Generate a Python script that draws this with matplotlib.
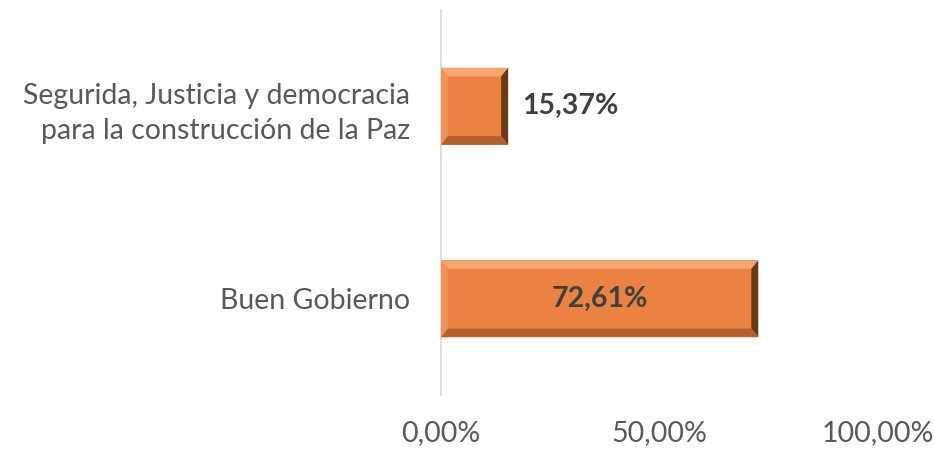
import matplotlib.pyplot as plt
from matplotlib.patches import Polygon

# data
categories = ["Buen Gobierno",
              "Segurida, Justicia y democracia\npara la construcción de la Paz"]
values = [72.61, 15.37]
value_labels = ["72,61%", "15,37%"]
tick_values = [0, 50, 100]
tick_labels = ["0,00%", "50,00%", "100,00%"]

plt.rcParams["font.family"] = ["Lato", "DejaVu Sans"]

fig = plt.figure(figsize=(9.34, 4.5), dpi=100)
ax = fig.add_axes([441 / 934, 55 / 450, 437 / 934, 385 / 450])

BAR_H = 0.4
bars = ax.barh(range(len(values)), values, height=BAR_H,
               color="#EC8242", edgecolor="none", zorder=2)

# bevel look around each bar (y0 = visual bottom, y1 = visual top)
bx, by = 1.6, 0.045
for b in bars:
    x0, y0 = b.get_x(), b.get_y()
    x1, y1 = x0 + b.get_width(), y0 + b.get_height()
    sides = [
        ([(x0, y1), (x1, y1), (x1 - bx, y1 - by), (x0 + bx, y1 - by)], "#F6A56C"),
        ([(x0, y0), (x0 + bx, y0 + by), (x0 + bx, y1 - by), (x0, y1)], "#EF9456"),
        ([(x1, y0), (x1, y1), (x1 - bx, y1 - by), (x1 - bx, y0 + by)], "#6B3A14"),
        ([(x0, y0), (x1, y0), (x1 - bx, y0 + by), (x0 + bx, y0 + by)], "#B4602A"),
    ]
    for pts, c in sides:
        ax.add_patch(Polygon(pts, closed=True, facecolor=c, edgecolor="none", zorder=3))

# value labels
for i, (v, lab) in enumerate(zip(values, value_labels)):
    if v > 40:
        ax.text(v / 2, i, lab, ha="center", va="center", fontsize=20.5,
                fontweight="bold", color="#404040", zorder=4)
    else:
        ax.text(v + 3.3, i, lab, ha="left", va="center", fontsize=20.5,
                fontweight="bold", color="#404040", zorder=4)

ax.set_xlim(0, 100)
ax.set_ylim(-0.5, 1.5)
ax.set_yticks(range(len(categories)))
ax.set_yticklabels(categories, fontsize=20.5, color="#595959", linespacing=1.45)
ax.set_xticks(tick_values)
ax.set_xticklabels(tick_labels, fontsize=20.5, color="#595959")
ax.tick_params(axis="both", length=0)
ax.tick_params(axis="y", pad=22)
ax.tick_params(axis="x", pad=18)

for s in ["top", "right", "bottom"]:
    ax.spines[s].set_visible(False)
ax.spines["left"].set_color("#D9D9D9")
ax.spines["left"].set_linewidth(1.2)

fig.savefig("out.png", dpi=100)
